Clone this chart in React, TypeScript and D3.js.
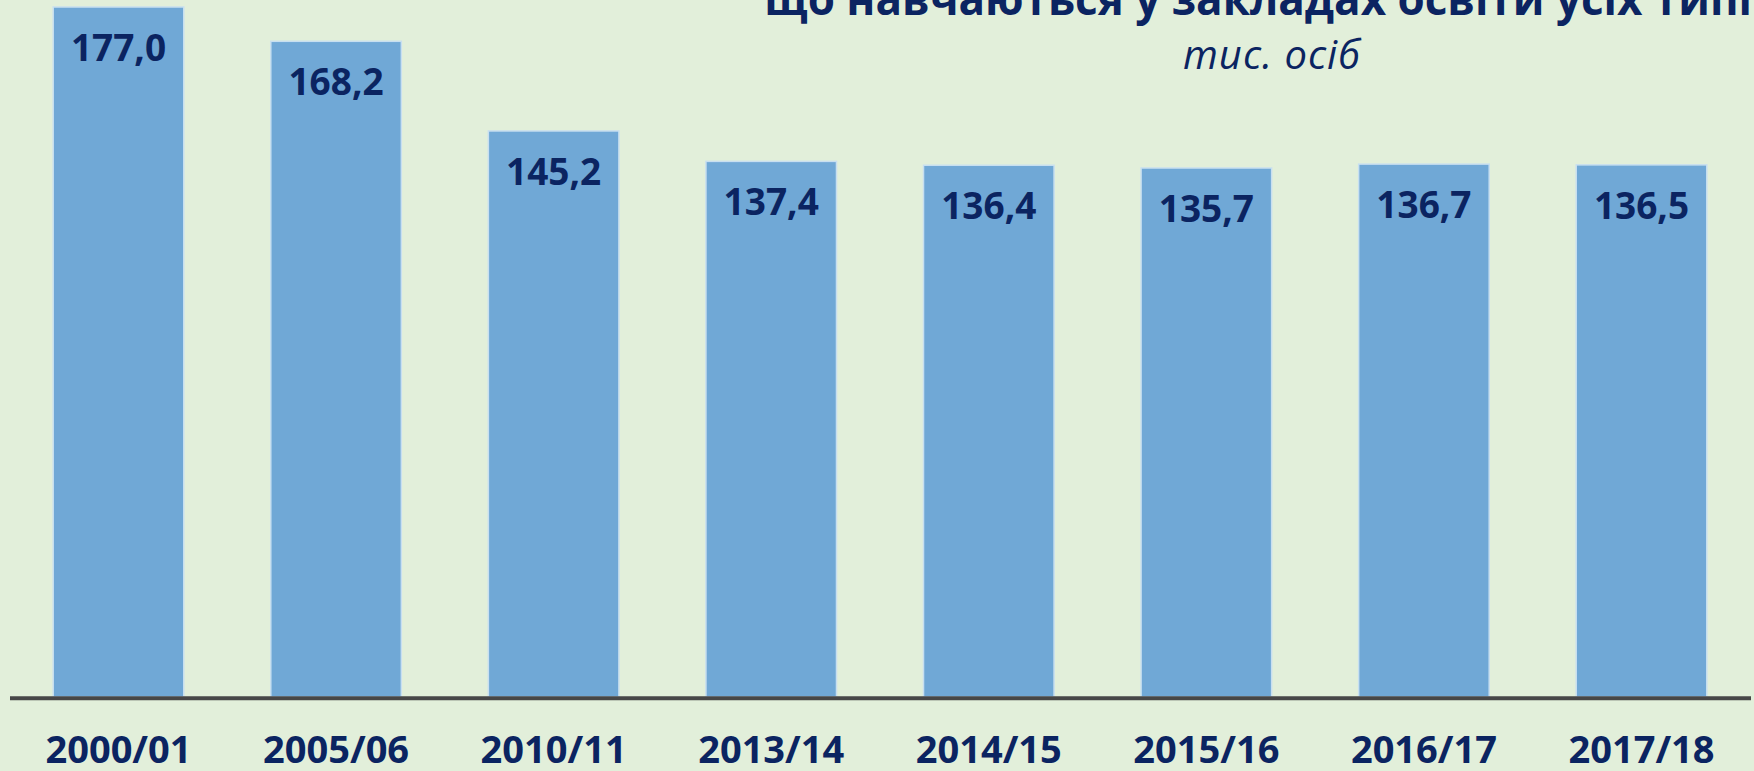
import React, { useEffect, useRef } from 'react';
import * as d3 from 'd3';

const years = ['2000/01', '2005/06', '2010/11', '2013/14', '2014/15', '2015/16', '2016/17', '2017/18'];
const students = [177.0, 168.2, 145.2, 137.4, 136.4, 135.7, 136.7, 136.5];
const titleText = 'що навчаються у закладах освіти усіх типів';
const unitText = 'тис. осіб';

const W = 1754;
const H = 771;

const App = () => {
    const svgRef = useRef<SVGSVGElement>(null);

    useEffect(() => {
        const svg = d3.select(svgRef.current);
        svg.selectAll('*').remove();

        const font = "'Open Sans', 'Noto Sans', sans-serif";
        const navy = '#0B2461';

        svg.append('rect')
            .attr('width', W)
            .attr('height', H)
            .attr('fill', '#E2EFDA');

        // Scales
        const x = d3.scaleBand<string>()
            .domain(years)
            .range([9.7, 1750.3])
            .paddingInner(0.4)
            .paddingOuter(0.2);

        const y = d3.scaleLinear()
            .domain([0, 177])
            .range([697, 7]);

        const data = years.map((yr, i) => ({ yr, v: students[i] }));

        // Bars
        svg.append('g')
            .selectAll('rect')
            .data(data)
            .enter()
            .append('rect')
            .attr('x', d => x(d.yr)!)
            .attr('width', x.bandwidth())
            .attr('y', d => y(d.v))
            .attr('height', d => y(0) - y(d.v))
            .attr('fill', '#70A8D6')
            .attr('stroke', '#C8DFF0')
            .attr('stroke-width', 1.5);

        // Value labels inside bars
        svg.append('g')
            .selectAll('text')
            .data(data)
            .enter()
            .append('text')
            .attr('x', d => x(d.yr)! + x.bandwidth() / 2)
            .attr('y', d => y(d.v) + 54)
            .attr('text-anchor', 'middle')
            .style('font-family', font)
            .style('font-weight', 'bold')
            .style('font-size', '37px')
            .style('fill', navy)
            .text(d => d.v.toFixed(1).replace('.', ','));

        // X axis line
        svg.append('line')
            .attr('x1', 10)
            .attr('x2', 1751)
            .attr('y1', 698.3)
            .attr('y2', 698.3)
            .attr('stroke', '#474747')
            .attr('stroke-width', 4);

        // Category labels
        svg.append('g')
            .selectAll('text')
            .data(years)
            .enter()
            .append('text')
            .attr('x', d => x(d)! + x.bandwidth() / 2)
            .attr('y', 763)
            .attr('text-anchor', 'middle')
            .style('font-family', font)
            .style('font-weight', 'bold')
            .style('font-size', '38px')
            .style('fill', navy)
            .text(d => d);

        // Title (cut off at the top) and units
        svg.append('text')
            .attr('x', 1272)
            .attr('y', 15)
            .attr('text-anchor', 'middle')
            .style('font-family', font)
            .style('font-weight', 'bold')
            .style('font-size', '44px')
            .style('fill', navy)
            .text(titleText);

        svg.append('text')
            .attr('x', 1272)
            .attr('y', 69)
            .attr('text-anchor', 'middle')
            .style('font-family', font)
            .style('font-style', 'italic')
            .style('font-size', '40px')
            .style('letter-spacing', '1px')
            .style('fill', navy)
            .text(unitText);
    }, []);

    return (
        <svg
            ref={svgRef}
            width={W}
            height={H}
            style={{ position: 'absolute', left: 0, top: 0, display: 'block' }}
        />
    );
};

export default App;
